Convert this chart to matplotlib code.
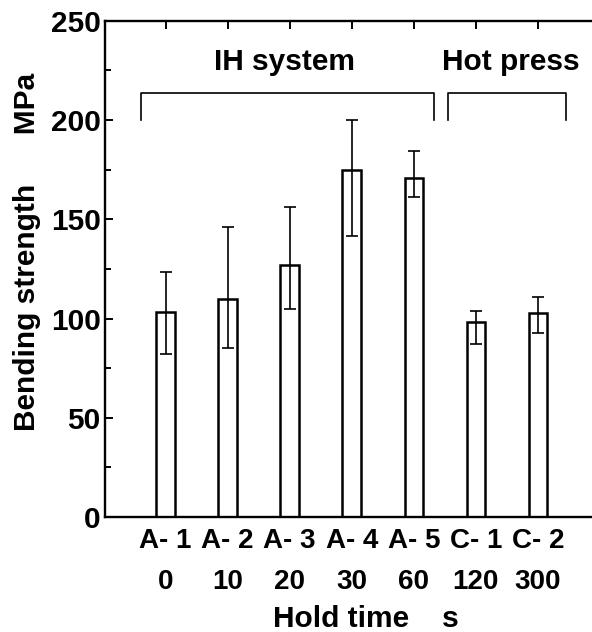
import numpy as np
import matplotlib.pyplot as plt

plt.rcParams['font.family'] = ['Liberation Sans', 'DejaVu Sans']
plt.rcParams['font.weight'] = 'bold'

# Bending strength per sample (MPa), with error bar limits
samples = ['A- 1', 'A- 2', 'A- 3', 'A- 4', 'A- 5', 'C- 1', 'C- 2']
hold_times = ['0', '10', '20', '30', '60', '120', '300']
strength = [103.5, 110, 127, 175, 171, 98.5, 103]
err_low = [82, 85, 105, 141.5, 161, 87, 92.5]
err_high = [123.5, 146, 156, 200, 184.5, 104, 111]

x = np.arange(1, len(samples) + 1)
strength = np.array(strength)
yerr = [strength - np.array(err_low), np.array(err_high) - strength]

fig = plt.figure(figsize=(5.92, 6.32), dpi=100)
ax = fig.add_axes([0.177, 0.182, 0.823, 0.785])

ax.bar(x, strength, width=0.3, color='white', edgecolor='black', linewidth=1.8, zorder=2)
ax.errorbar(x, strength, yerr=yerr, fmt='none', ecolor='black',
            elinewidth=1.2, capsize=4.5, capthick=1.2, zorder=3)

ax.set_xlim(0.02, 7.87)
ax.set_ylim(0, 250)
ax.set_yticks([0, 50, 100, 150, 200, 250])
ax.set_yticks(np.arange(25, 250, 50), minor=True)
ax.set_xticks(x)
ax.set_xticklabels([f'{s}\n{t}' for s, t in zip(samples, hold_times)], linespacing=1.75)

ax.tick_params(axis='both', which='both', direction='in', width=1.4)
ax.tick_params(axis='x', which='major', length=6, top=True, pad=8, labelsize=20)
ax.tick_params(axis='y', which='major', length=6, pad=3, labelsize=21.5)
ax.tick_params(axis='y', which='minor', length=4)
for lbl in ax.get_xticklabels() + ax.get_yticklabels():
    lbl.set_fontweight('bold')

ax.spines['right'].set_visible(False)
for side in ['left', 'bottom', 'top']:
    ax.spines[side].set_linewidth(1.7)

ax.set_ylabel('Bending strength      MPa', fontsize=21.5, fontweight='bold')
ax.yaxis.set_label_coords(-0.13, 0.534)
ax.set_xlabel('Hold time    s', fontsize=21.5, fontweight='bold')
ax.xaxis.set_label_coords(0.535, -0.177)

# group brackets
ax.plot([0.61, 0.61, 5.32, 5.32], [200, 213.7, 213.7, 200], color='black', lw=1.2, clip_on=False)
ax.plot([5.55, 5.55, 7.45, 7.45], [200, 213.7, 213.7, 200], color='black', lw=1.2, clip_on=False)
ax.text(2.92, 229.5, 'IH system', ha='center', va='center', fontsize=21.5, fontweight='bold')
ax.text(6.56, 229.5, 'Hot press', ha='center', va='center', fontsize=21.5, fontweight='bold')

fig.savefig('out.png', dpi=100)
